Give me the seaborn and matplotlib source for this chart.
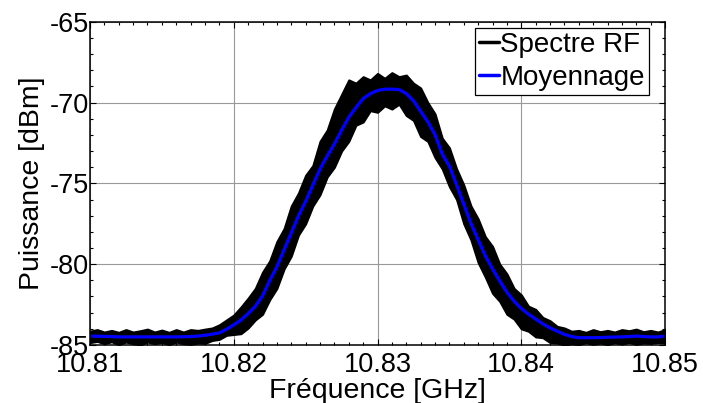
import numpy as np
import pandas as pd
import seaborn as sns
import matplotlib.pyplot as plt
from matplotlib.ticker import MultipleLocator

# frequency grid (GHz), step 0.0005
freq = [10.8100, 10.8105, 10.8110, 10.8115, 10.8120, 10.8125, 10.8130, 10.8135,
        10.8140, 10.8145, 10.8150, 10.8155, 10.8160, 10.8165, 10.8170, 10.8175,
        10.8180, 10.8185, 10.8190, 10.8195, 10.8200, 10.8205, 10.8210, 10.8215,
        10.8220, 10.8225, 10.8230, 10.8235, 10.8240, 10.8245, 10.8250, 10.8255,
        10.8260, 10.8265, 10.8270, 10.8275, 10.8280, 10.8285, 10.8290, 10.8295,
        10.8300, 10.8305, 10.8310, 10.8315, 10.8320, 10.8325, 10.8330, 10.8335,
        10.8340, 10.8345, 10.8350, 10.8355, 10.8360, 10.8365, 10.8370, 10.8375,
        10.8380, 10.8385, 10.8390, 10.8395, 10.8400, 10.8405, 10.8410, 10.8415,
        10.8420, 10.8425, 10.8430, 10.8435, 10.8440, 10.8445, 10.8450, 10.8455,
        10.8460, 10.8465, 10.8470, 10.8475, 10.8480, 10.8485, 10.8490, 10.8495,
        10.8500]

# averaged spectrum (dBm)
moyenne = [-84.45, -84.46, -84.47, -84.48, -84.50, -84.50, -84.50, -84.50,
           -84.50, -84.50, -84.50, -84.50, -84.50, -84.49, -84.48, -84.45,
           -84.40, -84.33, -84.25, -84.02, -83.75, -83.45, -83.05, -82.60,
           -81.95, -81.00, -80.15, -79.10, -78.05, -77.00, -76.10, -75.10,
           -74.10, -73.30, -72.55, -71.70, -70.90, -70.30, -69.75, -69.45,
           -69.25, -69.17, -69.17, -69.20, -69.45, -69.90, -70.55, -71.20,
           -72.00, -73.20, -73.95, -75.10, -76.30, -77.50, -78.50, -79.50,
           -80.30, -81.05, -81.75, -82.30, -82.75, -83.10, -83.40, -83.70,
           -83.95, -84.15, -84.35, -84.48, -84.55, -84.55, -84.55, -84.54,
           -84.52, -84.51, -84.50, -84.48, -84.45, -84.48, -84.50, -84.50,
           -84.45]

# raw RF spectrum: upper and lower extent of the noisy trace (dBm)
spectre_haut = [-84.15, -84.05, -84.20, -84.10, -84.22, -84.05, -84.20, -84.12,
                -84.02, -84.20, -84.08, -84.22, -84.05, -84.20, -84.05, -84.10,
                -84.02, -83.95, -83.75, -83.45, -83.15, -82.65, -82.10, -81.50,
                -80.50, -79.80, -78.60, -77.80, -76.40, -75.60, -74.50, -73.90,
                -72.40, -71.70, -70.40, -69.50, -68.60, -68.80, -68.40, -68.60,
                -68.20, -68.50, -68.15, -68.40, -68.30, -68.80, -69.10, -70.00,
                -70.70, -72.20, -72.80, -74.10, -75.10, -76.40, -77.20, -78.30,
                -78.90, -80.00, -80.60, -81.50, -81.90, -82.60, -82.80, -83.30,
                -83.50, -83.85, -83.95, -84.15, -84.10, -84.22, -84.05, -84.18,
                -84.10, -84.20, -84.05, -84.12, -84.02, -84.18, -84.10, -84.20,
                -84.05]
spectre_bas = [-84.85, -84.78, -84.92, -84.80, -84.98, -84.82, -84.92, -85.00,
               -84.82, -84.92, -84.84, -84.98, -84.82, -84.92, -84.96, -84.88,
               -84.90, -84.72, -84.65, -84.40, -84.35, -84.30, -83.95, -83.45,
               -83.10, -82.20, -81.50, -80.30, -79.50, -78.20, -77.50, -76.40,
               -75.70, -74.60, -74.00, -73.00, -72.40, -71.40, -71.20, -70.50,
               -70.60, -70.20, -70.40, -70.10, -70.80, -71.10, -72.10, -72.40,
               -73.40, -74.10, -75.20, -76.00, -77.50, -78.50, -79.90, -80.80,
               -81.80, -82.30, -83.10, -83.40, -84.00, -84.15, -84.50, -84.55,
               -84.85, -84.88, -85.00, -84.92, -84.98, -84.86, -84.96, -84.88,
               -84.98, -84.86, -84.94, -84.84, -84.96, -84.88, -84.90, -84.84,
               -84.88]

x_ticks = [10.81, 10.82, 10.83, 10.84, 10.85]
y_ticks = [-85, -80, -75, -70, -65]

df_spec = pd.DataFrame({
    "freq": freq + freq,
    "dbm": spectre_haut + spectre_bas,
})
df_moy = pd.DataFrame({"freq": freq, "dbm": moyenne})

sns.set_style("ticks")
plt.rcParams["font.family"] = ["Liberation Sans", "DejaVu Sans"]
plt.rcParams["text.color"] = "black"
plt.rcParams["axes.labelcolor"] = "black"
plt.rcParams["xtick.color"] = "black"
plt.rcParams["ytick.color"] = "black"

fig = plt.figure(figsize=(7.03, 4.03), dpi=100)
ax = fig.add_axes([0.128, 0.144, 0.818, 0.802])

sns.lineplot(data=df_spec, x="freq", y="dbm", ax=ax, color="black",
             linewidth=1.5, errorbar=("pi", 100), label="Spectre RF",
             err_kws={"alpha": 1, "facecolor": "black", "edgecolor": "black",
                      "linewidth": 1.5})
sns.lineplot(data=df_moy, x="freq", y="dbm", ax=ax, color="#0000ff",
             linewidth=2.3, label="Moyennage")

ax.set_xlim(10.81, 10.85)
ax.set_ylim(-85, -65)
ax.set_xticks(x_ticks)
ax.set_xticklabels([f"{v:.2f}" for v in x_ticks])
ax.set_yticks(y_ticks)
ax.set_yticklabels([str(v) for v in y_ticks])
ax.xaxis.set_minor_locator(MultipleLocator(0.001))
ax.yaxis.set_minor_locator(MultipleLocator(1))
ax.tick_params(which="both", direction="in", top=True, right=True,
               labelsize=19.5, width=0.8, colors="black")
ax.tick_params(axis="x", which="major", pad=5)
ax.tick_params(axis="y", which="major", pad=1)
ax.tick_params(which="major", length=4)
ax.tick_params(which="minor", length=2.5)
ax.grid(True, which="major", color="#999999", linewidth=0.8)
for sp in ax.spines.values():
    sp.set_linewidth(1.1)
    sp.set_color("black")

ax.set_xlabel("Fréquence [GHz]", fontsize=20.5, labelpad=0)
ax.set_ylabel("Puissance [dBm]", fontsize=20.5, labelpad=3)

leg = ax.legend(loc="upper right", bbox_to_anchor=(0.972, 0.981),
                borderaxespad=0, fontsize=20, handlelength=0.7,
                handletextpad=0.05, borderpad=0.15, labelspacing=0.25,
                frameon=True, fancybox=False, framealpha=1)
leg.get_frame().set_edgecolor("black")
leg.get_frame().set_linewidth(0.9)
for line in leg.get_lines():
    line.set_linewidth(2.5)

fig.savefig("out.png", dpi=100)
